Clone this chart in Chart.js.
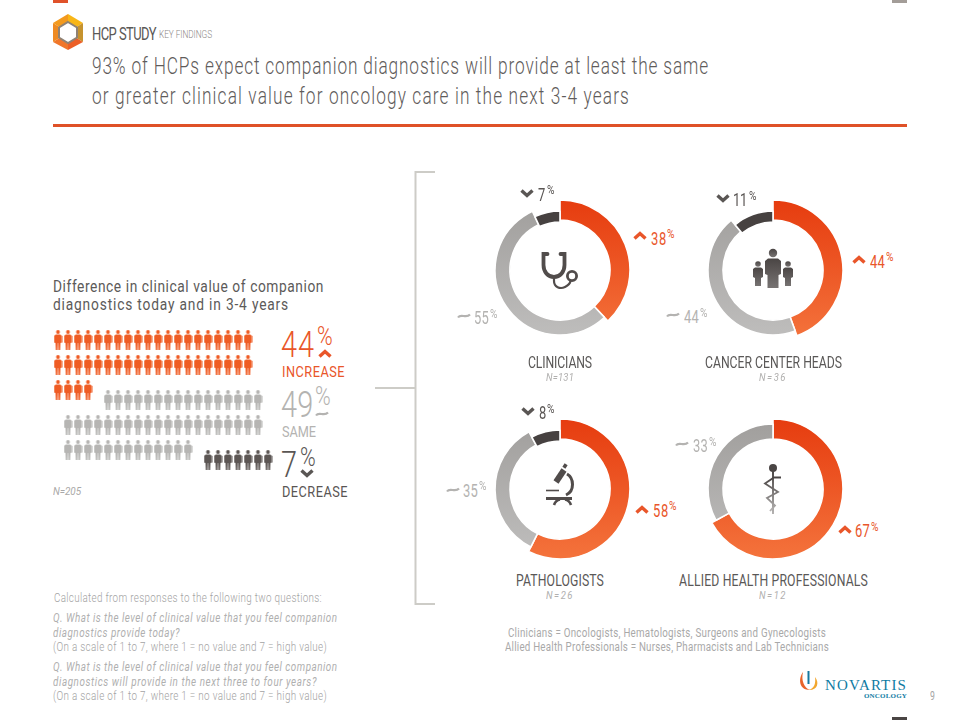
<!DOCTYPE html>
<html>
<head>
<meta charset="utf-8">
<title>HCP Study</title>
<script src="https://cdn.jsdelivr.net/npm/chart.js@4/dist/chart.umd.min.js"></script>
<style>
html,body{margin:0;padding:0;background:#fff;}
#page{position:relative;width:960px;height:720px;overflow:hidden;background:#fff;font-family:Roboto,"Liberation Sans",sans-serif;}
#page canvas{position:absolute;}
#page svg{position:absolute;left:0;top:0;}
.t{position:absolute;white-space:nowrap;transform-origin:0 50%;}
</style>
</head>
<body>
<div id="page">
<svg width="960" height="720" viewBox="0 0 960 720">
  <defs>
    <linearGradient id="fade" x1="0" y1="0" x2="0" y2="1"><stop offset="0" stop-color="#4a4544"/><stop offset="1" stop-color="#777372"/></linearGradient>
    <linearGradient id="fadeRod" x1="0" y1="0" x2="0" y2="1"><stop offset="0" stop-color="#4a4544"/><stop offset="1" stop-color="#b5b3b2"/></linearGradient>
  </defs>
  <!-- corner tabs and header rule -->
  <rect x="53" y="0" width="15" height="3" fill="#e0522a"/>
  <rect x="892" y="0" width="15" height="3" fill="#a39d98"/>
  <rect x="892" y="717" width="15" height="3" fill="#4a4544"/>
  <rect x="53" y="124" width="854" height="3" fill="#df5128"/>
  <!-- hex logo -->
  <polygon points="68,14 83,23 75,28 68,24" fill="#f8b617"/>
  <polygon points="83,23 83,42 75,37 75,28" fill="#c6932f"/>
  <polygon points="83,42 68,50 68,42 75,37" fill="#ec5f26"/>
  <polygon points="68,50 53,42 61,37 68,42" fill="#f0762a"/>
  <polygon points="53,42 53,23 61,28 61,37" fill="#ee8a22"/>
  <polygon points="53,23 68,14 68,24 61,28" fill="#f39a1e"/>
  <polygon points="68,22 77,27.5 77,37.5 68,43 59,37.5 59,27.5" fill="#fff" stroke="#8f8274" stroke-width="2"/>
  <!-- bracket -->
  <path d="M435 172H415.5V604H435M375 388H415" fill="none" stroke="#cdccc7" stroke-width="2"/>
  <!-- stethoscope -->
  <g fill="none" stroke="#514c4b" stroke-linecap="round">
    <path d="M547.5 254H543.5V265C543.5 272 548 277 554 277C560 277 564.5 272 564.5 265V254H560.5" stroke-width="3.8"/>
    <path d="M554 277V281C554 287 560 289.5 565 287C568 285.5 570 284 570.5 281" stroke-width="2.2"/>
    <circle cx="572" cy="276" r="4.6" stroke-width="2.8"/>
  </g>
  <!-- people -->
  <g fill="url(#fade)">
    <circle cx="773" cy="253" r="4.2"/>
    <path d="M768 258.5H778L781 261V274L778.5 275V288H767.5V275L765 274V261Z"/>
    <circle cx="758" cy="264" r="2.8"/>
    <path d="M755 267.5H761L763 269V277L761 278V286H755V278L753 277V269Z"/>
    <circle cx="788" cy="264" r="2.8"/>
    <path d="M785 267.5H791L793 269V277L791 278V286H785V278L783 277V269Z"/>
  </g>
  <!-- microscope -->
  <g fill="none" stroke="#514c4b" stroke-linecap="butt">
    <path d="M564 470L556 482" stroke-width="6"/>
    <path d="M563.5 465L566.5 467" stroke-width="4"/>
    <path d="M567 474C574 478 575 491 566 495" stroke-width="3"/>
    <path d="M546 490.5H559" stroke-width="1.6"/>
    <path d="M546 498.5H572" stroke-width="3"/>
    <path d="M554 505C555 502 557 500 560 499.5M571 505C570 502 568 500 565 499.5" stroke-width="2.6"/>
  </g>
  <!-- rod of asclepius -->
  <circle cx="773" cy="468" r="4" fill="#4a4544"/>
  <path d="M772 470H774V514H772Z" fill="url(#fadeRod)"/>
  <path d="M781 477.5H774L765 483.5L778 492L767 498L775 505.5L770 511" fill="none" stroke="url(#fadeRod)" stroke-width="1.8"/>
  <!-- novartis flame -->
  <path d="M803 672C798 679 799 690 810 690C804 688 801 680 803 672Z" fill="#e8642a"/>
  <path d="M815 677C820 683 817 691 808 690C814 689 816 684 815 677Z" fill="#f2a72e"/>
  <path d="M807.5 671H809.5V684H807.5Z" fill="#1678a0"/>
  <g id="glyphs"></g>
</svg>
<canvas id="crowd"></canvas>
</div>
<script>
// people counts per row, one array per answer
var increaseRows = [20, 20, 4];
var sameRows = [16, 20, 13];
var decreaseRows = [7];

// doughnuts
var groups = ["CLINICIANS", "CANCER CENTER HEADS", "PATHOLOGISTS", "ALLIED HEALTH PROFESSIONALS"];
var groupN = ["N=131", "N=36", "N=26", "N=12"];
var increase = [38, 44, 58, 67];
var same = [55, 44, 35, 33];
var decrease = [7, 11, 8, null];

// ring geometry, slices in order increase, same, decrease
var ringOuter = [70, 65, 59];
var ringInner = [50, 50, 48];
var centers = [[560, 270], [773, 270], [560, 489], [773, 489]];

var page = document.getElementById("page");
var glyphs = document.getElementById("glyphs");
var ORANGE = "#e9562a", GREY = "#b4b3b1", DARK = "#5a5654";

// puts a line of text with its left edge at x and middle at y, squeezed like the
// original condensed face and letter spaced to the wanted width
function put(text, x, y, size, color, width, extra, squeeze) {
  var sx = squeeze || 0.72;
  var s = document.createElement("span");
  s.className = "t";
  s.textContent = text;
  s.style.fontSize = size + "px";
  s.style.lineHeight = (size * 0.8) + "px";
  s.style.color = color;
  s.style.left = x + "px";
  s.style.top = (y - size * 0.36) + "px";
  if (extra) { for (var k in extra) s.style[k] = extra[k]; }
  page.appendChild(s);
  var w = s.getBoundingClientRect().width;
  s.style.letterSpacing = ((width / sx - w) / text.length) + "px";
  s.style.transform = "scaleX(" + sx + ")";
  return s;
}
function centered(text, cx, y, size, color, width, extra, squeeze) {
  put(text, cx - width / 2, y, size, color, width, extra, squeeze);
}

function chevron(x, y, up, color) {
  var p = document.createElementNS("http://www.w3.org/2000/svg", "path");
  var d = up ? -1 : 1;
  p.setAttribute("d", "M" + (x - 5.5) + " " + (y - 2.5 * d) + "L" + x + " " + (y + 2.5 * d) + "L" + (x + 5.5) + " " + (y - 2.5 * d));
  p.setAttribute("fill", "none");
  p.setAttribute("stroke", color);
  p.setAttribute("stroke-width", "3.4");
  glyphs.appendChild(p);
}
function tilde(x, y, color) {
  var p = document.createElementNS("http://www.w3.org/2000/svg", "path");
  p.setAttribute("d", "M" + (x - 6) + " " + (y + 1.5) + "C" + (x - 3) + " " + (y - 3) + " " + (x + 2) + " " + (y + 3) + " " + (x + 6) + " " + (y - 1.5));
  p.setAttribute("fill", "none");
  p.setAttribute("stroke", color);
  p.setAttribute("stroke-width", "2.2");
  glyphs.appendChild(p);
}

var LIGHT = { fontWeight: "300" };
var ITALIC = { fontStyle: "italic" };

// header
put("HCP STUDY", 92, 33, 18, "#5a5857", 64);
put("KEY FINDINGS", 159, 34, 11.5, "#8d8886", 53, LIGHT);
put("93% of HCPs expect companion diagnostics will provide at least the same", 92, 66, 24, "#5f5c5b", 617, LIGHT);
put("or greater clinical value for oncology care in the next 3-4 years", 92, 96, 24, "#5f5c5b", 538, LIGHT);

// left block
put("Difference in clinical value of companion", 53, 287, 16, "#5c5a59", 271, null, 0.86);
put("diagnostics today and in 3-4 years", 53, 305, 16, "#5c5a59", 236, null, 0.86);

put("44", 281, 343, 37, ORANGE, 34, LIGHT, 0.78);
put("%", 317, 336, 25, ORANGE, 16, LIGHT, 0.85);
chevron(325, 354, true, ORANGE);
put("INCREASE", 282, 371, 15, ORANGE, 63, null, 0.85);
put("49", 281, 403, 37, GREY, 32.5, LIGHT, 0.78);
put("%", 315, 396, 25, GREY, 15, LIGHT, 0.85);
tilde(322, 414, GREY);
put("SAME", 282, 431, 15, GREY, 34, null, 0.85);
put("7", 281, 463, 37, DARK, 17, LIGHT, 0.78);
put("%", 300, 457, 25, DARK, 16, LIGHT, 0.85);
chevron(307, 473, false, DARK);
put("DECREASE", 282, 491, 15, DARK, 66, null, 0.85);
put("N=205", 53, 492, 11, "#aaa9a8", 28, ITALIC, 0.9);

// footnotes
var noteGrey = "#a3a3a3", noteItalic = "#b0b0b0";
put("Calculated from responses to the following two questions:", 54, 598, 12, noteGrey, 268, LIGHT, 0.82);
put("Q.  What is the level of clinical value that you feel companion", 53, 618, 12, noteItalic, 285, ITALIC, 0.82);
put("diagnostics provide today?", 53, 633, 12, noteItalic, 127, ITALIC, 0.82);
put("(On a scale of 1 to 7, where 1 = no value and 7 = high value)", 53, 647, 12, noteGrey, 274, LIGHT, 0.82);
put("Q.  What is the level of clinical value that you feel companion", 53, 667, 12, noteItalic, 285, ITALIC, 0.82);
put("diagnostics will provide in the next three to four years?", 53, 682, 12, noteItalic, 264, ITALIC, 0.82);
put("(On a scale of 1 to 7, where 1 = no value and 7 = high value)", 53, 696, 12, noteGrey, 274, LIGHT, 0.82);
put("Clinicians = Oncologists, Hematologists, Surgeons and Gynecologists", 508, 632, 12.5, "#a9a9a9", 318, null, 0.78);
put("Allied Health Professionals = Nurses, Pharmacists and Lab Technicians", 505, 646, 12.5, "#a9a9a9", 324, null, 0.78);
put("9", 930, 696, 12, "#a5a5a5", 5);
put("NOVARTIS", 825, 684, 15, "#0f7ba3", 82, { fontFamily: "'Liberation Serif',serif" }, 1);
put("ONCOLOGY", 864, 697, 7, "#0f7ba3", 43, { fontFamily: "'Liberation Serif',serif", fontWeight: "bold" }, 1);

// the little crowd: one point per person, through a scatter chart
function personIcon(color) {
  var c = document.createElement("canvas");
  c.width = 9; c.height = 20;
  var g = c.getContext("2d");
  g.fillStyle = color;
  g.beginPath(); g.arc(4.5, 2, 1.9, 0, Math.PI * 2); g.fill();
  g.beginPath();
  g.moveTo(2.2, 4.5); g.lineTo(6.8, 4.5); g.lineTo(8.5, 6); g.lineTo(8.5, 12.5); g.lineTo(7, 13);
  g.lineTo(6.6, 20); g.lineTo(4.9, 20); g.lineTo(4.7, 13); g.lineTo(4.3, 13); g.lineTo(4.1, 20);
  g.lineTo(2.4, 20); g.lineTo(2, 13); g.lineTo(0.5, 12.5); g.lineTo(0.5, 6);
  g.closePath(); g.fill();
  return c;
}
function seats(rows, firstCols, firstRow) {
  var pts = [];
  for (var r = 0; r < rows.length; r++) {
    for (var i = 0; i < rows[r]; i++) pts.push({ x: firstCols[r] + i, y: firstRow + r });
  }
  return pts;
}
var crowd = document.getElementById("crowd");
crowd.width = 230; crowd.height = 150;
crowd.style.left = "48px"; crowd.style.top = "325px";
crowd.style.width = "230px"; crowd.style.height = "150px";
new Chart(crowd, {
  type: "scatter",
  data: {
    datasets: [
      { data: seats(increaseRows, [0, 0, 0], 0), pointStyle: personIcon("#ef5c24") },
      { data: seats(sameRows, [5, 1, 1], 2.4), pointStyle: personIcon("#b6b5b3") },
      { data: seats(decreaseRows, [15], 4.8), pointStyle: personIcon("#5c5654") }
    ]
  },
  options: {
    responsive: false,
    animation: false,
    layout: { padding: 0, autoPadding: false },
    plugins: { legend: { display: false }, tooltip: { enabled: false } },
    scales: {
      x: { display: false, min: -1, max: 22 },
      y: { display: false, min: -0.6, max: 5.4, reverse: true }
    }
  }
});

// Chart.js has one radius per ring; here each slice keeps its own
var sliceRadii = {
  id: "sliceRadii",
  beforeDatasetsDraw: function (chart) {
    chart.getDatasetMeta(0).data.forEach(function (arc, i) {
      arc.outerRadius = ringOuter[i];
      arc.innerRadius = ringInner[i];
    });
  }
};
var SIZE = 146;
function sliceColor(ctx) {
  var g = ctx.chart.ctx.createLinearGradient(0, 3, 0, SIZE - 3);
  if (ctx.dataIndex === 0) { g.addColorStop(0, "#e63c0f"); g.addColorStop(1, "#f4733c"); }
  else if (ctx.dataIndex === 1) { g.addColorStop(0, "#a09e9c"); g.addColorStop(1, "#bfbebd"); }
  else { g.addColorStop(0, "#45403f"); g.addColorStop(1, "#4d4847"); }
  return g;
}
groups.forEach(function (name, i) {
  var c = document.createElement("canvas");
  c.width = SIZE; c.height = SIZE;
  c.style.width = SIZE + "px"; c.style.height = SIZE + "px";
  c.style.left = (centers[i][0] - SIZE / 2) + "px";
  c.style.top = (centers[i][1] - SIZE / 2) + "px";
  page.insertBefore(c, crowd);
  new Chart(c, {
    type: "doughnut",
    data: {
      labels: ["Increase", "Same", "Decrease"].slice(0, decrease[i] === null ? 2 : 3),
      datasets: [{
        data: [increase[i], same[i], decrease[i]].filter(function (v) { return v !== null; }),
        backgroundColor: sliceColor,
        borderColor: "#fff",
        borderWidth: 1.6
      }]
    },
    options: {
      responsive: false,
      animation: false,
      layout: { padding: 0 },
      plugins: { legend: { display: false }, tooltip: { enabled: false } }
    },
    plugins: [sliceRadii]
  });
});

// value labels: mark x,y then number x,y,width then % x,y
var labelSpots = [
  { up: [640, 236, 651, 238, 16, 667, 234], flat: [464, 316, 474, 317, 15, 490, 314], down: [527, 193, 538, 194, 8, 547, 190] },
  { up: [859, 260, 870, 261, 15, 886, 257], flat: [673, 315, 684, 316, 15, 700, 313], down: [723, 198, 733, 199, 14, 749, 196] },
  { up: [642, 510, 653, 510, 16, 669, 506], flat: [453, 490, 463, 490, 15, 479, 486], down: [528, 411, 539, 412, 8, 547, 409] },
  { up: [845, 530, 855, 530, 15, 871, 527], flat: [682, 444, 693, 445, 15, 709, 442], down: null }
];
function valueLabel(v, spot, color) {
  put(String(v), spot[2], spot[3], 18, color, spot[4]);
  put("%", spot[5], spot[6], 12, color, 8, null, 0.85);
}
groups.forEach(function (name, i) {
  var s = labelSpots[i];
  chevron(s.up[0], s.up[1], true, ORANGE);
  valueLabel(increase[i], s.up, ORANGE);
  tilde(s.flat[0], s.flat[1], GREY);
  valueLabel(same[i], s.flat, GREY);
  if (s.down) {
    chevron(s.down[0], s.down[1], false, DARK);
    valueLabel(decrease[i], s.down, DARK);
  }
});
var nameWidths = [64, 137, 88, 189];
groups.forEach(function (name, i) {
  var yName = i < 2 ? 362 : 580;
  centered(name, centers[i][0], yName, 17, "#5a5857", nameWidths[i]);
  centered(groupN[i], centers[i][0], yName + 15.5, 10.5, "#b1b0af", 28, ITALIC, 0.9);
});
</script>
</body>
</html>
